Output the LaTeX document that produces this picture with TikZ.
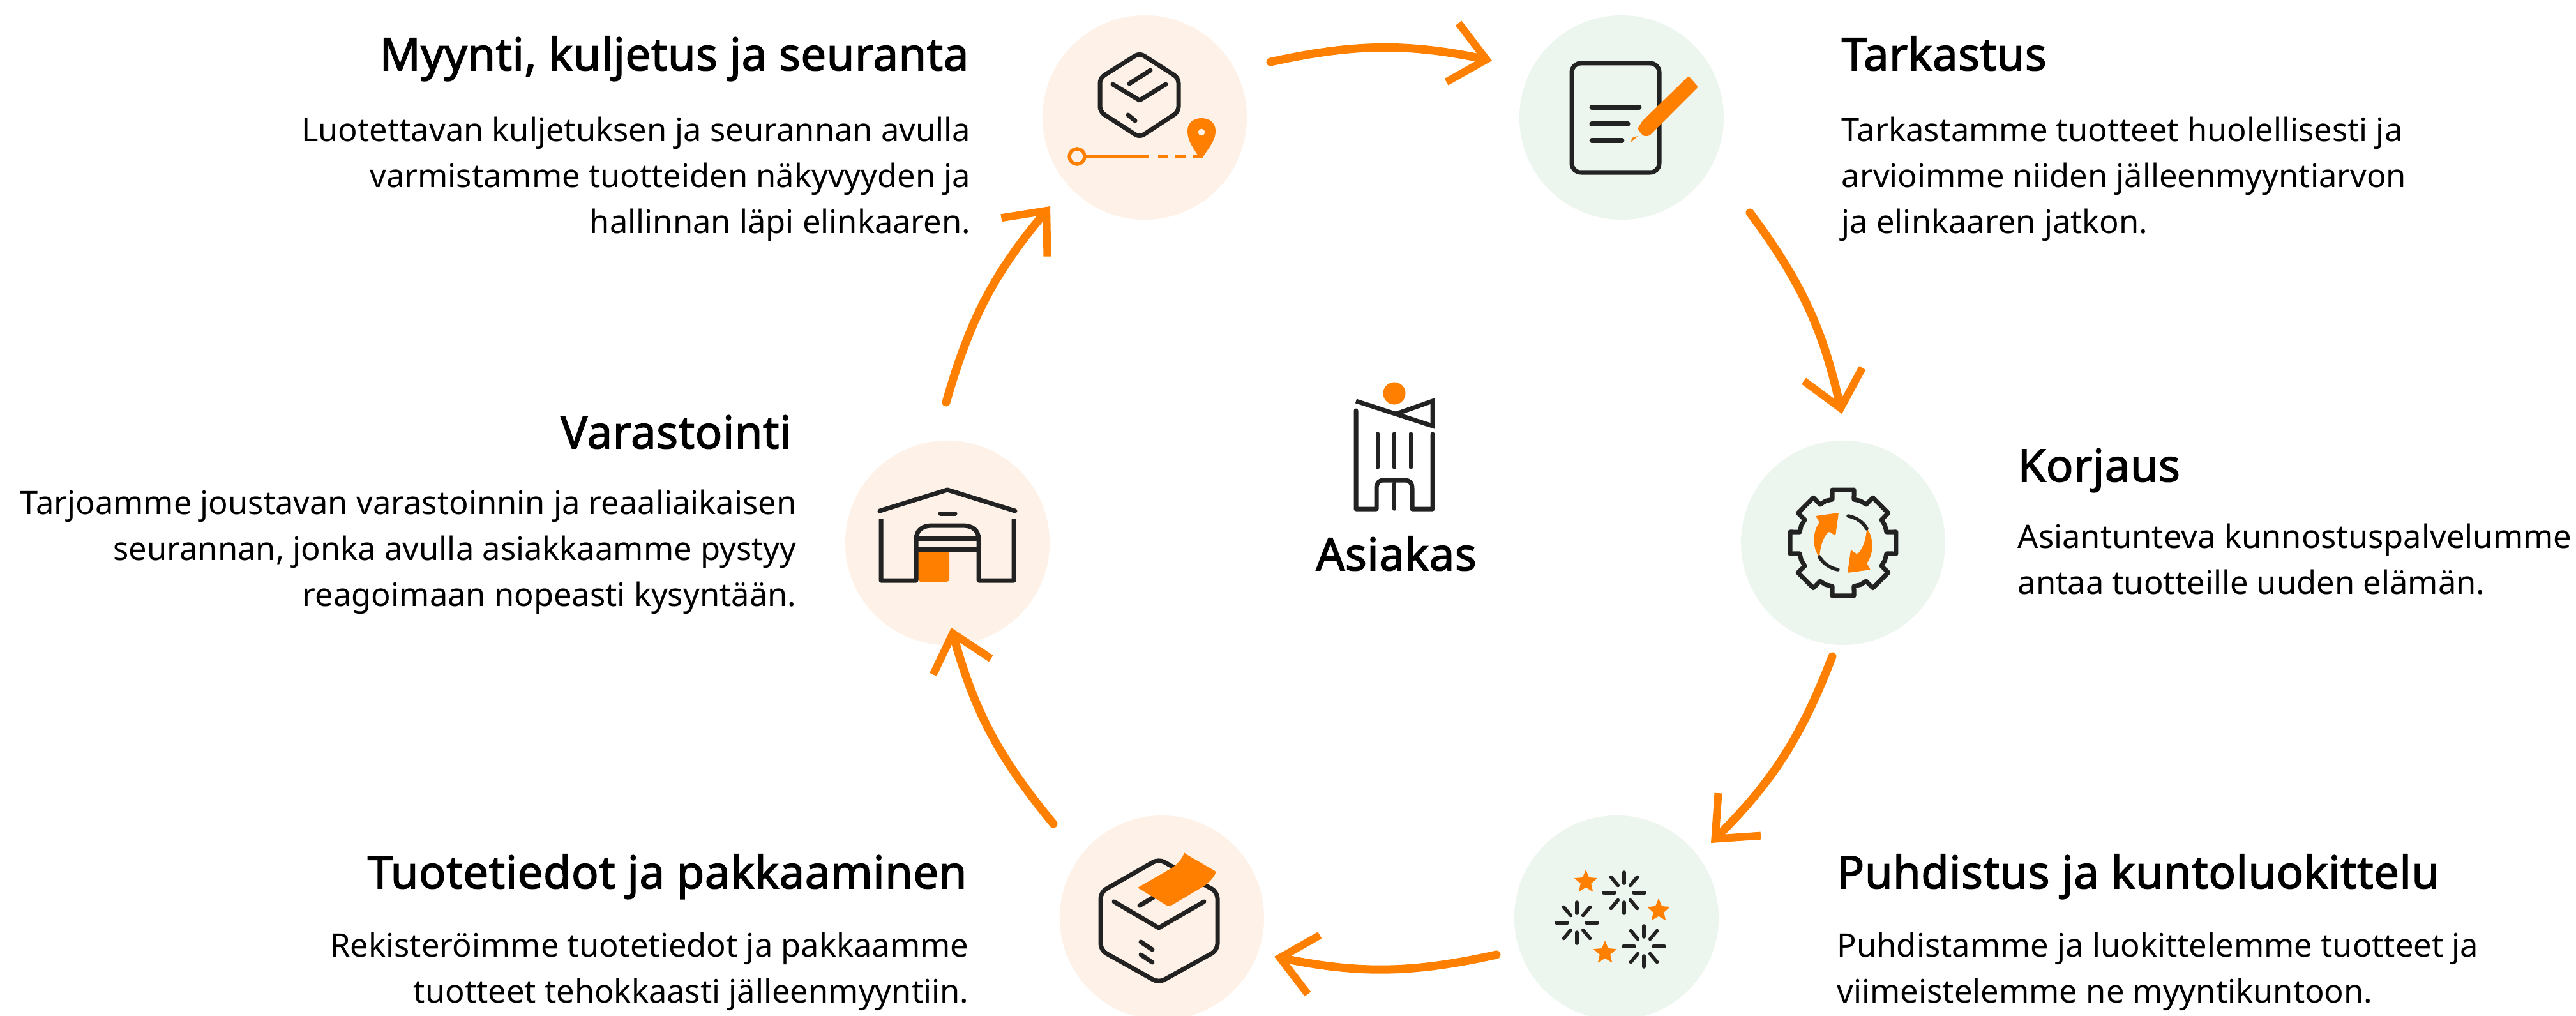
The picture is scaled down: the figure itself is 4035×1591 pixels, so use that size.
\documentclass[tikz,border=0pt]{standalone}
\usepackage{fontspec}
\setmainfont{Noto Sans}
\newfontfamily\headfont[FakeBold=2.2,LetterSpace=1]{Noto Sans}
\usetikzlibrary{arrows.meta,shapes.geometric}
\definecolor{brandorange}{HTML}{FF8000}
\definecolor{peach}{HTML}{FEF1E7}
\definecolor{mint}{HTML}{ECF6EE}
\definecolor{inkdark}{HTML}{222222}

\begin{document}
\begin{tikzpicture}[x=.01cm,y=-.01cm,
    stepdisc/.style={circle,inner sep=0,minimum size=3.2cm},
    headtext/.style={inner sep=0,font=\headfont\fontsize{20pt}{24pt}\selectfont},
    bodytext/.style={inner sep=0,font=\fontsize{14.4pt}{20.35pt}\selectfont},
    cycle/.style={draw=brandorange,line width=.13cm,line cap=round,bend left=12,
      -{Straight Barb[length=.54cm,width=.94cm,line width=.12cm]}},
    icon/.style={draw=inkdark,line width=.07cm,line cap=round,line join=round},
    thinicon/.style={draw=inkdark,line width=.055cm,line cap=round},
    staricon/.style={star,star points=5,star point ratio=2.2,fill=brandorange,inner sep=0,minimum size=.38cm}]
  \useasboundingbox (0,0) rectangle (4035,1591);

  \node[stepdisc,fill=peach] (myynti) at (1793,184) {};
  \node[stepdisc,fill=mint] (tarkastus) at (2540,184) {};
  \node[stepdisc,fill=mint] (korjaus) at (2887,850) {};
  \node[stepdisc,fill=mint] (puhdistus) at (2532,1437) {};
  \node[stepdisc,fill=peach] (tuotetiedot) at (1820,1437) {};
  \node[stepdisc,fill=peach] (varastointi) at (1484,850) {};

  % connectors
  \draw[cycle] ([shift={(197,-87)}]myynti.center) to ([shift={(-203,-89)}]tarkastus.center);
  \draw[cycle] ([shift={(201,149)}]tarkastus.center) to ([shift={(-2,-202)}]korjaus.center);
  \draw[cycle] ([shift={(-17,178)}]korjaus.center) to ([shift={(148,-117)}]puhdistus.center);
  \draw[cycle] ([shift={(-188,58)}]puhdistus.center) to ([shift={(176,61)}]tuotetiedot.center);
  \draw[cycle] ([shift={(-170,-147)}]tuotetiedot.center) to ([shift={(6,133)}]varastointi.center);
  \draw[cycle] ([shift={(-2,-220)}]varastointi.center) to ([shift={(-148,139)}]myynti.center);

  % texts
  \node[headtext,anchor=base east] (myyntihead) at (1518,110) {Myynti, kuljetus ja seuranta};
  \node[bodytext,anchor=base east,align=right] (myyntibody) at (1521,365)
      {Luotettavan kuljetuksen ja seurannan avulla\\varmistamme tuotteiden näkyvyyden ja\\hallinnan läpi elinkaaren.};
  \node[headtext,anchor=base west] (tarkastushead) at (2884,110) {Tarkastus};
  \node[bodytext,anchor=base west,align=left] (tarkastusbody) at (2884,365)
      {Tarkastamme tuotteet huolellisesti ja\\arvioimme niiden jälleenmyyntiarvon\\ja elinkaaren jatkon.};
  \node[headtext,anchor=base west] (korjaushead) at (3160,754) {Korjaus};
  \node[bodytext,anchor=base west,align=left] (korjausbody) at (3160,930)
      {Asiantunteva kunnostuspalvelumme\\antaa tuotteille uuden elämän.};
  \node[headtext,anchor=base west] (puhdistushead) at (2877,1391) {Puhdistus ja kuntoluokittelu};
  \node[bodytext,anchor=base west,align=left] (puhdistusbody) at (2877,1570)
      {Puhdistamme ja luokittelemme tuotteet ja\\viimeistelemme ne myyntikuntoon.};
  \node[headtext,anchor=base east] (tuotetiedothead) at (1515,1391) {Tuotetiedot ja pakkaaminen};
  \node[bodytext,anchor=base east,align=right] (tuotetiedotbody) at (1518,1570)
      {Rekisteröimme tuotetiedot ja pakkaamme\\tuotteet tehokkaasti jälleenmyyntiin.};
  \node[headtext,anchor=base east] (varastointihead) at (1240,702) {Varastointi};
  \node[bodytext,anchor=base east,align=right] (varastointibody) at (1248,949)
      {Tarjoamme joustavan varastoinnin ja reaaliaikaisen\\seurannan, jonka avulla asiakkaamme pystyy\\reagoimaan nopeasti kysyntään.};
  \node[headtext,anchor=base] (asiakas) at (2187,893) {Asiakas};

  % logo
  \fill[brandorange] (2184,616) circle[radius=.175cm];
  \draw[icon] (2124,643) -- (2124,797) -- (2156,797) -- (2156,765)
      .. controls (2156,756) and (2160,752) .. (2168,752) -- (2200,752)
      .. controls (2208,752) and (2212,756) .. (2212,765) -- (2212,797) -- (2244,797) -- (2244,680);
  \draw[icon,line cap=butt,line join=miter] (2124,628) -- (2244,667) -- (2244,628) -- (2187,648);
  \foreach \stripe in {2158,2184,2210}
    \draw[thinicon] (\stripe,679) -- (\stripe,732);
  \draw[thinicon] (2184,757) -- (2184,797);

  % box and route
  \draw[icon,rounded corners=.08cm] (1785,83) -- (1846,122) -- (1846,175) -- (1785,215) -- (1723,175) -- (1723,122) -- cycle;
  \draw[icon] (1743,132) -- (1785,157) -- (1826,132);
  \draw[icon] (1769,131) -- (1802,110);
  \draw[icon] (1767,180) -- (1778,189);
  \draw[brandorange,line width=.055cm] (1687,245) circle[radius=.12cm];
  \draw[brandorange,line width=.065cm] (1700,245) -- (1800,245) (1814,245) -- (1829,245) (1841,245) -- (1857,245) (1868,245) -- (1880,245);
  \fill[brandorange,even odd rule] (1879,248) .. controls (1870,232) and (1860,222) .. (1860,205)
      .. controls (1860,192) and (1870,185) .. (1882,185) .. controls (1894,185) and (1904,192) .. (1904,205)
      .. controls (1904,222) and (1890,235) .. (1883,248) -- cycle (1882,207) circle[radius=.055cm];

  % document
  \draw[icon,rounded corners=.14cm] (2462,99) rectangle (2599,270);
  \draw[icon] (2493,168) -- (2568,168);
  \draw[icon] (2493,194) -- (2550,194);
  \draw[icon] (2493,220) -- (2541,220);
  \fill[brandorange,rounded corners=.02cm] (2645,119) -- (2660,136) -- (2583,213) -- (2574,213) -- (2565,202) -- (2572,190) -- cycle;
  \fill[brandorange] (2565,213) -- (2555,223) -- (2556,216) -- cycle;

  % warehouse
  \draw[icon] (1378,800) -- (1484,767) -- (1590,800);
  \draw[icon] (1473,804) -- (1496,804);
  \fill[brandorange,rounded corners=.04cm] (1438,862) -- (1487,862) -- (1487,911) -- (1438,911) -- cycle;
  \draw[icon,line cap=butt] (1380,813) -- (1380,909) -- (1435,909) -- (1435,845)
      .. controls (1435,830) and (1445,823) .. (1460,823) -- (1508,823)
      .. controls (1523,823) and (1533,830) .. (1533,845) -- (1533,909) -- (1588,909) -- (1588,813);
  \draw[icon] (1435,843) -- (1533,843) (1435,860) -- (1533,860);

  % gear
  \begin{scope}[shift={(korjaus.center)}]
    \draw[icon] (-11.6:84.7) \foreach \tooth in {0,45,...,315}
      { -- ({\tooth-11.6}:84.7) -- ({\tooth+11.6}:84.7) -- ({\tooth+14}:70) -- ({\tooth+22.5}:71) -- ({\tooth+31}:70) } -- cycle;
    \foreach \turn in {0,180}
    {
      \begin{scope}[rotate=\turn]
        \fill[brandorange,rounded corners=.02cm] (-43,-42) -- (-7,-47) -- (-12,-11) -- (-22,-18)
            .. controls (-32,-8) and (-36,8) .. (-37,22) .. controls (-47,10) and (-49,-15) .. (-37,-32) -- cycle;
        \draw[icon,line width=.055cm] (-37,22) .. controls (-32,32) and (-20,40) .. (-8,42);
      \end{scope}
    }
  \end{scope}

  % sparkles
  \foreach \cx/\cy in {2544/1398,2470/1445,2575/1482}
  {
    \foreach \ray in {0,90,180,270}
      \draw[thinicon] ([shift={(\ray:15)}]\cx,\cy) -- ([shift={(\ray:32)}]\cx,\cy);
    \foreach \ray in {50,130,230,310}
      \draw[thinicon] ([shift={(\ray:15)}]\cx,\cy) -- ([shift={(\ray:32)}]\cx,\cy);
  }
  \node[staricon] (starone) at (2484,1381) {};
  \node[staricon] (startwo) at (2598,1426) {};
  \node[staricon] (starthree) at (2514,1492) {};

  % parcel
  \draw[icon,rounded corners=.1cm] (1815,1345) -- (1907,1397) -- (1907,1488) -- (1815,1539) -- (1724,1488) -- (1724,1397) -- cycle;
  \draw[icon] (1745,1412) -- (1815,1453) -- (1886,1412);
  \draw[icon] (1785,1418) -- (1807,1405);
  \draw[icon] (1787,1475) -- (1805,1487);
  \draw[icon] (1787,1495) -- (1805,1507);
  \fill[brandorange,rounded corners=.02cm] (1855,1336) -- (1905,1365) .. controls (1900,1376) and (1892,1384) .. (1882,1390)
      -- (1831,1420) -- (1782,1390) -- (1829,1363) .. controls (1842,1356) and (1850,1347) .. cycle;
\end{tikzpicture}
\end{document}
